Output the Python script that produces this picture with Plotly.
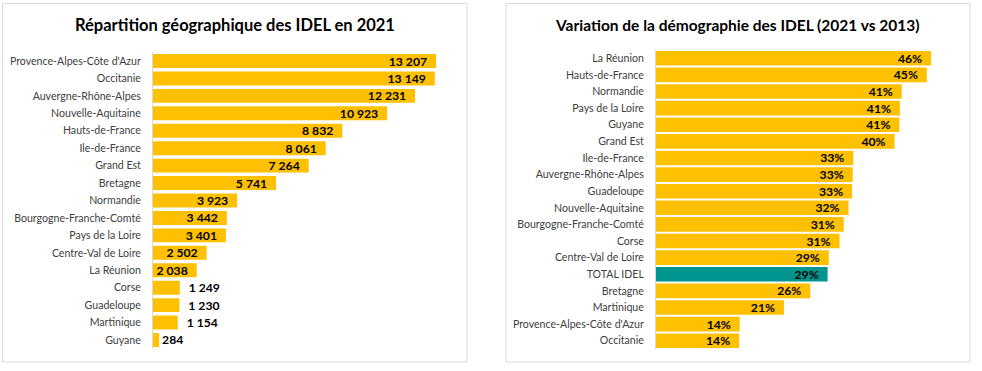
import plotly.graph_objects as go

W, H = 982, 371

# ---------- data ----------
regions_left = ["Provence-Alpes-Côte d'Azur", "Occitanie", "Auvergne-Rhône-Alpes",
                "Nouvelle-Aquitaine", "Hauts-de-France", "Ile-de-France", "Grand Est",
                "Bretagne", "Normandie", "Bourgogne-Franche-Comté", "Pays de la Loire",
                "Centre-Val de Loire", "La Réunion", "Corse", "Guadeloupe", "Martinique",
                "Guyane"]
idel_2021 = [13207, 13149, 12231, 10923, 8832, 8061, 7264, 5741, 3923, 3442, 3401,
             2502, 2038, 1249, 1230, 1154, 284]

regions_right = ["La Réunion", "Hauts-de-France", "Normandie", "Pays de la Loire", "Guyane",
                 "Grand Est", "Ile-de-France", "Auvergne-Rhône-Alpes", "Guadeloupe",
                 "Nouvelle-Aquitaine", "Bourgogne-Franche-Comté", "Corse",
                 "Centre-Val de Loire", "TOTAL IDEL", "Bretagne", "Martinique",
                 "Provence-Alpes-Côte d'Azur", "Occitanie"]
variation_pct = [46.0, 45.3, 41.1, 40.8, 40.7, 39.9, 33.0, 32.9, 32.8, 32.2, 31.4, 30.7,
                 28.9, 28.7, 25.8, 21.4, 14.0, 13.9]

title_left = "Répartition géographique des IDEL en 2021"
title_right = "Variation de la démographie des IDEL (2021 vs 2013)"

GOLD = "#FFC000"
TEAL = "#00968F"
FONT = "Lato"

def px_x(x):
    return x / W

def px_y(y):
    return 1 - y / H

# ---------- left chart ----------
pos_left = ["inside" if v > 2000 else "outside" for v in idel_2021]
tmpl_left = []
for v, p in zip(idel_2021, pos_left):
    if p == "inside":
        tmpl_left.append("%{x:,}\u00a0\u00a0")
    elif v > 1000:
        tmpl_left.append("\u00a0\u00a0%{x:,}")
    else:
        tmpl_left.append("%{x:,}")

fig = go.Figure()
fig.add_trace(go.Bar(
    x=idel_2021, y=regions_left, orientation="h",
    marker=dict(color=GOLD, line=dict(width=0)),
    texttemplate=tmpl_left, textposition=pos_left, insidetextanchor="end",
    constraintext="none", cliponaxis=False,
    textfont=dict(family=FONT, size=12.2, color="#000000", weight="bold"),
    xaxis="x", yaxis="y", hoverinfo="skip", showlegend=False,
))

# ---------- right chart ----------
colors_right = [TEAL if r == "TOTAL IDEL" else GOLD for r in regions_right]
fig.add_trace(go.Bar(
    x=variation_pct, y=regions_right, orientation="h",
    marker=dict(color=colors_right, line=dict(width=0)),
    texttemplate="%{x:.0f}%\u00a0\u00a0", textposition="inside", insidetextanchor="end",
    constraintext="none", cliponaxis=False, width=0.88,
    textfont=dict(family=FONT, size=12.2, color="#000000", weight="bold"),
    xaxis="x2", yaxis="y2", hoverinfo="skip", showlegend=False,
))

axis_common = dict(showgrid=False, zeroline=False, showticklabels=False, ticks="",
                   fixedrange=True)

lx0, lx1 = 153, 460
lscale = (436 - 153) / 13207
rx0, rx1 = 656, 965
rscale = (931 - 656) / 46.0

tickfont = dict(family=FONT, size=10.6, color="#404040")

fig.update_layout(
    width=W, height=H,
    margin=dict(l=0, r=0, t=0, b=0),
    paper_bgcolor="white", plot_bgcolor="white",
    separators=", ",
    font=dict(family=FONT, size=10.6, color="#404040"),
    bargap=0.2,
    xaxis=dict(domain=[px_x(lx0), px_x(lx1)], range=[0, (lx1 - lx0) / lscale],
               anchor="y", **axis_common),
    yaxis=dict(domain=[px_y(348.7), px_y(52.3)], autorange="reversed", anchor="x",
               showline=True, linecolor="#d9d9d9", linewidth=1, ticks="",
               ticklabelstandoff=9, showgrid=False, zeroline=False, fixedrange=True,
               tickfont=tickfont),
    xaxis2=dict(domain=[px_x(rx0), px_x(rx1)], range=[0, (rx1 - rx0) / rscale],
                anchor="y2", **axis_common),
    yaxis2=dict(domain=[px_y(349), px_y(50)], autorange="reversed", anchor="x2",
                showline=True, linecolor="#d9d9d9", linewidth=1, ticks="",
                ticklabelstandoff=9, showgrid=False, zeroline=False, fixedrange=True,
                tickfont=tickfont),
    annotations=[
        dict(text=title_left, x=px_x(235), y=px_y(25), xref="paper", yref="paper",
             xanchor="center", yanchor="middle", showarrow=False,
             font=dict(family=FONT, size=16.5, color="#000000", weight="bold")),
        dict(text=title_right, x=px_x(737.5), y=px_y(25), xref="paper", yref="paper",
             xanchor="center", yanchor="middle", showarrow=False,
             font=dict(family=FONT, size=15.5, color="#000000", weight="bold")),
    ],
    shapes=[
        dict(type="rect", xref="paper", yref="paper",
             x0=px_x(2.5), x1=px_x(467), y0=px_y(362), y1=px_y(3.5),
             line=dict(color="#d9d9d9", width=1), fillcolor="rgba(0,0,0,0)", layer="below"),
        dict(type="rect", xref="paper", yref="paper",
             x0=px_x(506), x1=px_x(970), y0=px_y(362), y1=px_y(3.5),
             line=dict(color="#d9d9d9", width=1), fillcolor="rgba(0,0,0,0)", layer="below"),
    ],
)

fig.write_html("out.html", config={"displayModeBar": False, "staticPlot": True},
               post_script="document.body.style.margin='0';document.body.style.overflow='hidden';")
